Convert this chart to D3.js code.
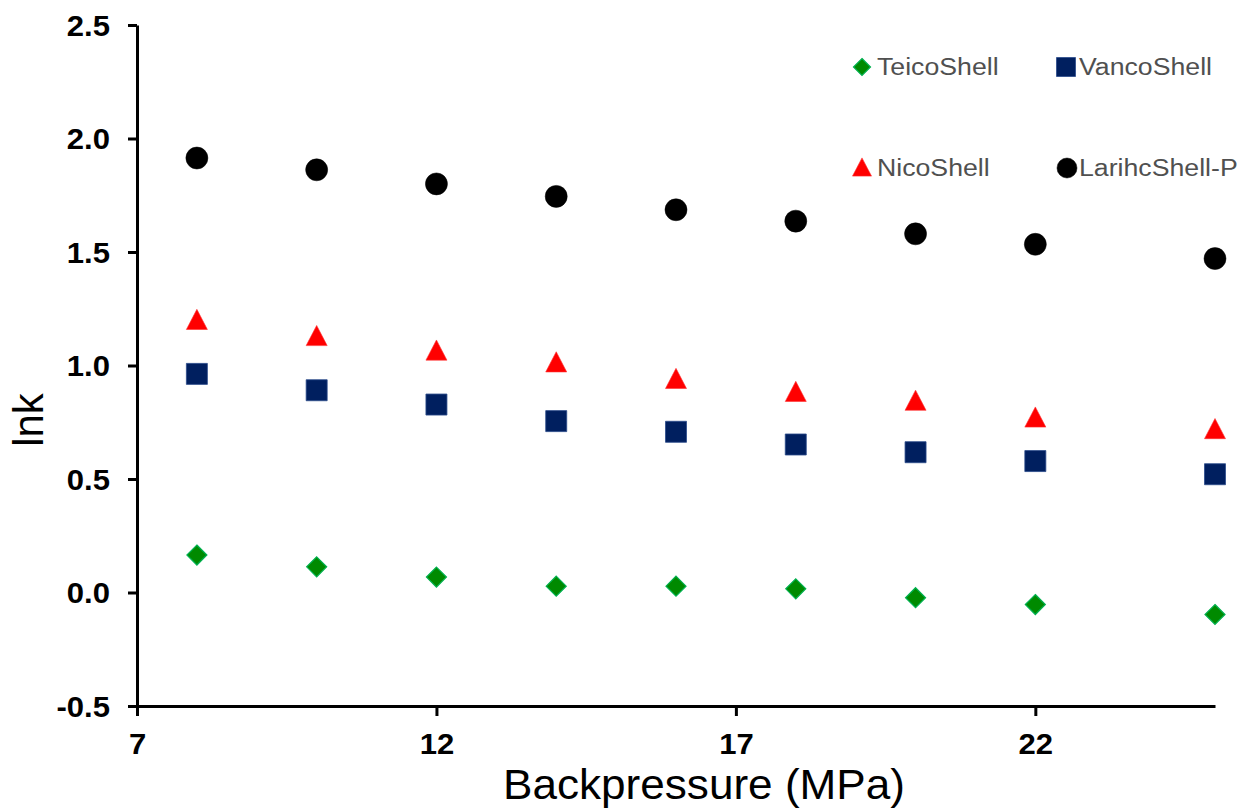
<!DOCTYPE html>
<html>
<head>
<meta charset="utf-8">
<script src="https://cdn.jsdelivr.net/npm/d3@7"></script>
<style>
  html, body { margin: 0; padding: 0; background: #fff; }
  svg { display: block; font-family: "Liberation Sans", Arial, sans-serif; }
</style>
</head>
<body>
<svg id="chart" width="1241" height="809"></svg>
<script>
// Backpressure (MPa) values and ln k for each stationary phase
const pressure = [8, 10, 12, 14, 16, 18, 20, 22, 25];
const teicoShell = [0.165, 0.113, 0.068, 0.028, 0.028, 0.016, -0.023, -0.053, -0.097];
const vancoShell = [0.963, 0.891, 0.828, 0.755, 0.708, 0.652, 0.618, 0.579, 0.521];
const nicoShell = [1.203, 1.132, 1.068, 1.016, 0.943, 0.886, 0.847, 0.773, 0.722];
const larihcShellP = [1.914, 1.862, 1.800, 1.745, 1.686, 1.636, 1.580, 1.534, 1.471];

const xTicks = [7, 12, 17, 22];
const yTicks = [-0.5, 0.0, 0.5, 1.0, 1.5, 2.0, 2.5];
const seriesNames = ["TeicoShell", "VancoShell", "NicoShell", "LarihcShell-P"];

const svg = d3.select("#chart");

const x = d3.scaleLinear().domain([7, 25]).range([137, 1215]);
const y = d3.scaleLinear().domain([-0.5, 2.5]).range([706, 25]);

// widen a text element horizontally by factor k
function stretch(sel, k) {
  sel.each(function () {
    const w = this.getComputedTextLength();
    d3.select(this).attr("textLength", w * k).attr("lengthAdjust", "spacingAndGlyphs");
  });
}

// marker shapes, centred on their bounding box
const shapes = {
  diamond: (s) => `M0,${-s / 2}L${s / 2},0L0,${s / 2}L${-s / 2},0Z`,
  square: (s) => `M${-s / 2},${-s / 2}H${s / 2}V${s / 2}H${-s / 2}Z`,
  triangle: (s) => `M0,${-s * 0.48}L${s * 0.5},${s * 0.48}L${-s * 0.5},${s * 0.48}Z`,
  circle: (s) => d3.symbol(d3.symbolCircle, Math.PI * (s / 2) * (s / 2))()
};

const series = [
  { name: seriesNames[0], values: teicoShell, shape: "diamond", size: 20, fill: "#008a00", stroke: "#00b050", sw: 1.2 },
  { name: seriesNames[1], values: vancoShell, shape: "square", size: 21, fill: "#001f5f", stroke: "#2a4a8a", sw: 0.8 },
  { name: seriesNames[2], values: nicoShell, shape: "triangle", size: 21, fill: "#ff0000", stroke: "#ff3030", sw: 0.6 },
  { name: seriesNames[3], values: larihcShellP, shape: "circle", size: 22, fill: "#000000", stroke: "#000000", sw: 0.5 }
];

// axes
const yAxis = d3.axisLeft(y).tickValues(yTicks).tickSize(9).tickSizeOuter(0).tickPadding(18)
  .tickFormat(v => v.toFixed(1));
const xAxis = d3.axisBottom(x).tickValues(xTicks).tickSize(10).tickSizeOuter(0).tickPadding(17)
  .tickFormat(v => String(v));

const gy = svg.append("g").attr("transform", `translate(${x(7)},0)`).call(yAxis);
const gx = svg.append("g").attr("transform", `translate(0,${y(-0.5)})`).call(xAxis);

[gx, gy].forEach(g => {
  g.select(".domain").attr("stroke", "#000").attr("stroke-width", 3);
  g.selectAll(".tick line").attr("stroke", "#000").attr("stroke-width", 3);
  g.selectAll(".tick text")
    .attr("fill", "#000")
    .style("font-family", "'Liberation Sans', Arial, sans-serif")
    .style("font-size", "29px")
    .style("font-weight", "bold");
});
gy.selectAll(".tick text").attr("dy", "0.35em");
stretch(gy.selectAll(".tick text"), 1.07);
stretch(gx.selectAll(".tick text"), 1.07);

// axis titles
const xTitle = svg.append("text")
  .attr("x", 704).attr("y", 799)
  .attr("text-anchor", "middle")
  .style("font-size", "42px")
  .attr("fill", "#000")
  .text("Backpressure (MPa)");
stretch(xTitle, 1.05);

svg.append("text")
  .attr("transform", "translate(43,420) rotate(-90)")
  .attr("text-anchor", "middle")
  .style("font-size", "42px")
  .attr("fill", "#000")
  .text("lnk");

// data markers
series.forEach(s => {
  svg.append("g")
    .selectAll("path")
    .data(pressure.map((p, i) => [p, s.values[i]]))
    .join("path")
    .attr("transform", d => `translate(${x(d[0])},${y(d[1])})`)
    .attr("d", shapes[s.shape](s.size))
    .attr("fill", s.fill)
    .attr("stroke", s.stroke)
    .attr("stroke-width", s.sw);
});

// legend, two columns by two rows
const legendPos = [
  { mx: 862, my: 67, tx: 877, ty: 75 },
  { mx: 1066, my: 67, tx: 1079, ty: 75 },
  { mx: 862, my: 167, tx: 877, ty: 176 },
  { mx: 1067, my: 168, tx: 1079, ty: 176 }
];
const legendSizes = [17, 19, 19, 20];

series.forEach((s, i) => {
  const p = legendPos[i];
  svg.append("path")
    .attr("transform", `translate(${p.mx},${p.my})`)
    .attr("d", shapes[s.shape](legendSizes[i]))
    .attr("fill", s.fill)
    .attr("stroke", s.stroke)
    .attr("stroke-width", s.sw);
  const t = svg.append("text")
    .attr("x", p.tx).attr("y", p.ty)
    .style("font-size", "23px")
    .attr("fill", "#505050")
    .text(s.name);
  stretch(t, 1.16);
});
</script>
</body>
</html>
